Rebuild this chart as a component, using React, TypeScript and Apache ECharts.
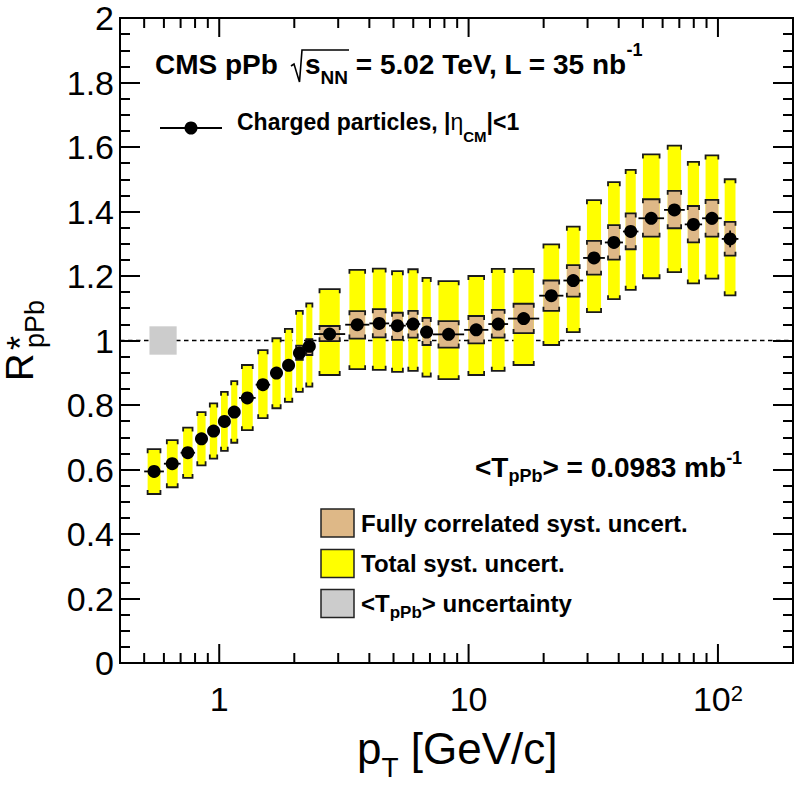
import React, { useEffect, useRef } from "react";
import * as echarts from "echarts";

const FONT = "Liberation Sans, Arial, Helvetica, sans-serif";

// pT bin edges [GeV/c]
const binEdges = [
  0.5, 0.6, 0.7, 0.8, 0.9, 1.0, 1.1, 1.2, 1.4, 1.6, 1.8, 2.0, 2.2, 2.4, 3.2, 4.0, 4.8, 5.6, 6.4,
  7.2, 9.6, 12.0, 14.4, 19.2, 24.0, 28.8, 35.2, 41.6, 48.0, 60.8, 73.6, 86.4, 103.6, 120.8,
];
// point positions [GeV/c]
const ptValues = [
  0.548, 0.648, 0.748, 0.849, 0.949, 1.049, 1.149, 1.296, 1.497, 1.697, 1.897, 2.098, 2.298, 2.771,
  3.578, 4.382, 5.185, 5.987, 6.788, 8.314, 10.73, 13.15, 16.63, 21.47, 26.29, 31.84, 38.27, 44.68,
  54.01, 66.89, 79.75, 94.61, 111.9,
];
const rpPb = [
  0.594, 0.618, 0.652, 0.695, 0.719, 0.749, 0.778, 0.822, 0.863, 0.899, 0.923, 0.961, 0.982, 1.02,
  1.049, 1.053, 1.046, 1.051, 1.026, 1.019, 1.033, 1.051, 1.068, 1.139, 1.186, 1.256, 1.304, 1.338,
  1.379, 1.405, 1.36, 1.379, 1.315,
];
const statErr = [
  0.001, 0.001, 0.001, 0.001, 0.001, 0.001, 0.001, 0.001, 0.001, 0.001, 0.001, 0.001, 0.001, 0.001,
  0.001, 0.001, 0.002, 0.002, 0.002, 0.002, 0.002, 0.003, 0.003, 0.004, 0.005, 0.007, 0.009, 0.011,
  0.012, 0.015, 0.018, 0.019, 0.026,
];
const totalSystLow = [
  0.524, 0.545, 0.574, 0.613, 0.634, 0.658, 0.683, 0.722, 0.759, 0.79, 0.81, 0.841, 0.857, 0.893,
  0.911, 0.909, 0.903, 0.906, 0.888, 0.88, 0.893, 0.906, 0.924, 0.986, 1.026, 1.088, 1.128, 1.157,
  1.193, 1.212, 1.177, 1.192, 1.14,
];
const totalSystHigh = [
  0.663, 0.691, 0.73, 0.778, 0.805, 0.841, 0.874, 0.924, 0.97, 1.007, 1.036, 1.092, 1.115, 1.159,
  1.219, 1.223, 1.215, 1.221, 1.194, 1.184, 1.2, 1.222, 1.222, 1.298, 1.353, 1.435, 1.491, 1.529,
  1.577, 1.604, 1.554, 1.574, 1.5,
];
const corrSystLow = [
  null, null, null, null, null, null, null, null, null, null, null, 0.94, 0.955, 0.998,
  1.006, 1.01, 1.002, 1.009, 0.986, 0.978, 0.991, 1.009, 1.023, 1.092, 1.136, 1.204, 1.251, 1.283,
  1.322, 1.348, 1.304, 1.322, 1.263,
];
const corrSystHigh = [
  null, null, null, null, null, null, null, null, null, null, null, 0.984, 1.004, 1.045,
  1.091, 1.097, 1.086, 1.092, 1.07, 1.06, 1.076, 1.095, 1.114, 1.186, 1.234, 1.309, 1.358, 1.394,
  1.438, 1.464, 1.417, 1.436, 1.368,
];
const refLevel = 1;
const normUncertainty = 0.044;
const normBoxPt = [0.525, 0.675];
const xRange = [0.4, 200];
const yRange = [0, 2];
const xMajorTicks = [1, 10, 100];
const xMinorTicks = [0.5, 0.6, 0.7, 0.8, 0.9, 2, 3, 4, 5, 6, 7, 8, 9, 20, 30, 40, 50, 60, 70, 80, 90];

const YELLOW = "#ffff00";
const TAN = "#deb887";
const GREY = "#cccccc";
const INK = "#000000";

const totalRows = ptValues.map((pt, i) => [pt, binEdges[i], binEdges[i + 1], totalSystLow[i], totalSystHigh[i]]);
const corrRows = ptValues
  .map((pt, i) => [pt, binEdges[i], binEdges[i + 1], corrSystLow[i], corrSystHigh[i]])
  .filter((r) => r[3] != null);
const errRows = ptValues.map((pt, i) => [pt, binEdges[i], binEdges[i + 1], rpPb[i], statErr[i]]);
const pointRows = ptValues.map((pt, i) => [pt, rpPb[i]]);

const makeBoxRenderer = (fill: string) => (_p: any, api: any) => {
  const pLo = api.coord([api.value(1), api.value(3)]);
  const pHi = api.coord([api.value(2), api.value(4)]);
  const mid = (pLo[0] + pHi[0]) / 2;
  const half = (pHi[0] - pLo[0]) * 0.325;
  const x0 = mid - half;
  const x1 = mid + half;
  const yb = pLo[1];
  const yt = pHi[1];
  const h = 4;
  const cap = { stroke: "#1a1a1a", lineWidth: 1.8, fill: "none" };
  return {
    type: "group",
    children: [
      { type: "rect", shape: { x: x0, y: yt, width: x1 - x0, height: yb - yt }, style: { fill } },
      { type: "polyline", shape: { points: [[x0, yt + h], [x0, yt], [x1, yt], [x1, yt + h]] }, style: cap },
      { type: "polyline", shape: { points: [[x0, yb - h], [x0, yb], [x1, yb], [x1, yb - h]] }, style: cap },
    ],
  };
};

const makeTickRenderer = (len: number) => (_p: any, api: any) => {
  const b = api.coord([api.value(0), yRange[0]]);
  const t = api.coord([api.value(0), yRange[1]]);
  const st = { stroke: INK, lineWidth: 2 };
  return {
    type: "group",
    children: [
      { type: "line", shape: { x1: b[0], y1: b[1], x2: b[0], y2: b[1] - len }, style: st },
      { type: "line", shape: { x1: t[0], y1: t[1], x2: t[0], y2: t[1] + len }, style: st },
    ],
  };
};

const yAxisBase = {
  type: "value",
  min: yRange[0],
  max: yRange[1],
  interval: 0.2,
  axisLine: { show: false },
  splitLine: { show: false },
  minorSplitLine: { show: false },
  axisTick: { show: true, inside: true, length: 20, lineStyle: { color: INK, width: 2 } },
  minorTick: { show: true, splitNumber: 4, length: 10, lineStyle: { color: INK, width: 2 } },
};

const bold = (size: number, extra: any = {}) => ({
  fontFamily: FONT,
  fontSize: size,
  fontWeight: "bold",
  fill: INK,
  color: INK,
  ...extra,
});
const plain = (size: number, extra: any = {}) => ({
  fontFamily: FONT,
  fontSize: size,
  fontWeight: "normal",
  fill: INK,
  color: INK,
  ...extra,
});

const txt = (x: number, y: number, text: string, rich: any) => ({
  type: "text",
  x,
  y,
  style: {
    text,
    rich,
    align: "left",
    textAlign: "left",
    verticalAlign: "middle",
    textVerticalAlign: "middle",
    fill: INK,
  },
});

const plainText = (x: number, y: number, text: string, size: number) => ({
  type: "text",
  x,
  y,
  style: {
    text,
    fontFamily: FONT,
    fontSize: size,
    fill: INK,
    align: "left",
    textAlign: "left",
    verticalAlign: "middle",
    textVerticalAlign: "middle",
  },
});

const headerRich = {
  m: bold(28, { lineHeight: 46 }),
  sub: bold(19, { lineHeight: 19, verticalAlign: "bottom" }),
  sup: bold(18, { lineHeight: 34, verticalAlign: "top" }),
};
const chargedRich = {
  m: bold(23, { lineHeight: 44 }),
  g: plain(23, { lineHeight: 44 }),
  sub: bold(15, { lineHeight: 15, verticalAlign: "bottom" }),
};
const tRich = {
  m: bold(28, { lineHeight: 36 }),
  sub: bold(18, { lineHeight: 18, verticalAlign: "bottom" }),
  sup: bold(18, { lineHeight: 16, verticalAlign: "top" }),
};
const legRich = {
  m: bold(24, { lineHeight: 36 }),
  sub: bold(17, { lineHeight: 17, verticalAlign: "bottom" }),
};
const xTitleRich = {
  m: plain(44, { lineHeight: 67 }),
  sub: plain(28, { lineHeight: 28, verticalAlign: "bottom" }),
};

const legendBox = (y: number, fill: string) => ({
  type: "rect",
  shape: { x: 321, y, width: 33, height: 28 },
  style: { fill, stroke: "#222", lineWidth: 1.5 },
});

const option: any = {
  animation: false,
  backgroundColor: "#ffffff",
  textStyle: { fontFamily: FONT },
  grid: {
    left: 120,
    top: 18,
    width: 673,
    height: 645,
    show: true,
    borderColor: INK,
    borderWidth: 2,
    backgroundColor: "transparent",
  },
  xAxis: {
    type: "log",
    logBase: 10,
    min: xRange[0],
    max: xRange[1],
    axisLine: { show: false },
    axisTick: { show: false },
    splitLine: { show: false },
    minorTick: { show: false },
    axisLabel: {
      margin: 19,
      formatter: (v: number) => {
        if (Math.abs(v - 1) < 1e-6) return "{n|1}";
        if (Math.abs(v - 10) < 1e-5) return "{n|10}";
        if (Math.abs(v - 100) < 1e-4) return "{n|10}{s|2}";
        return "";
      },
      rich: {
        n: { fontFamily: FONT, fontSize: 34, color: INK, lineHeight: 34 },
        s: { fontFamily: FONT, fontSize: 22, color: INK, lineHeight: 8, verticalAlign: "top" },
      },
    },
  },
  yAxis: [
    {
      ...yAxisBase,
      position: "left",
      axisLabel: { show: true, fontFamily: FONT, fontSize: 34, color: INK, margin: 6 },
    },
    { ...yAxisBase, position: "right", axisLabel: { show: false } },
  ],
  series: [
    {
      type: "line",
      data: [[xRange[0], refLevel], [xRange[1], refLevel]],
      symbol: "none",
      silent: true,
      z: 1,
      lineStyle: { color: INK, width: 1.5, type: [4.5, 3.5] },
    },
    {
      type: "custom",
      z: 2,
      silent: true,
      encode: { x: 0, y: 2 },
      data: [[normBoxPt[0], normBoxPt[1], refLevel - normUncertainty, refLevel + normUncertainty]],
      renderItem: (_p: any, api: any) => {
        const a = api.coord([api.value(0), api.value(3)]);
        const b = api.coord([api.value(1), api.value(2)]);
        return {
          type: "rect",
          shape: { x: a[0], y: a[1], width: b[0] - a[0], height: b[1] - a[1] },
          style: { fill: GREY },
        };
      },
    },
    {
      type: "custom",
      z: 3,
      silent: true,
      encode: { x: 0, y: 3 },
      data: totalRows,
      renderItem: makeBoxRenderer(YELLOW),
    },
    {
      type: "custom",
      z: 4,
      silent: true,
      encode: { x: 0, y: 3 },
      data: corrRows,
      renderItem: makeBoxRenderer(TAN),
    },
    {
      type: "custom",
      z: 5,
      silent: true,
      encode: { x: 0, y: 3 },
      data: errRows,
      renderItem: (_p: any, api: any) => {
        const pt = api.value(0);
        const r = api.value(3);
        const s = api.value(4);
        const a = api.coord([api.value(1), r]);
        const b = api.coord([api.value(2), r]);
        const c1 = api.coord([pt, r - s]);
        const c2 = api.coord([pt, r + s]);
        const st = { stroke: INK, lineWidth: 1.8 };
        return {
          type: "group",
          children: [
            { type: "line", shape: { x1: a[0], y1: a[1], x2: b[0], y2: b[1] }, style: st },
            { type: "line", shape: { x1: c1[0], y1: c1[1], x2: c2[0], y2: c2[1] }, style: st },
          ],
        };
      },
    },
    {
      type: "scatter",
      z: 6,
      silent: true,
      data: pointRows,
      symbol: "circle",
      symbolSize: 13,
      itemStyle: { color: INK, opacity: 1, borderWidth: 0 },
    },
    {
      type: "custom",
      z: 7,
      silent: true,
      encode: { x: 0, y: 1 },
      data: xMajorTicks.map((v) => [v, 0]),
      renderItem: makeTickRenderer(19),
    },
    {
      type: "custom",
      z: 7,
      silent: true,
      encode: { x: 0, y: 1 },
      data: xMinorTicks.map((v) => [v, 0]),
      renderItem: makeTickRenderer(10),
    },
  ],
  graphic: [
    txt(155, 64, "{m|CMS pPb}", headerRich),
    {
      type: "polyline",
      shape: { points: [[291, 66], [294, 64], [299.5, 82], [302, 50], [349, 50]] },
      style: { stroke: INK, lineWidth: 1.6, fill: "none" },
    },
    txt(305, 64, "{m|s}{sub|NN}{m| = 5.02 TeV, L = 35 nb}{sup|-1}", headerRich),
    { type: "line", shape: { x1: 160, y1: 128, x2: 222, y2: 128 }, style: { stroke: INK, lineWidth: 2 } },
    { type: "circle", shape: { cx: 191, cy: 128, r: 6.5 }, style: { fill: INK } },
    txt(237, 122, "{m|Charged particles, |}{g|η}{sub|CM}{m||<1}", chargedRich),
    txt(475, 467, "{m|<T}{sub|pPb}{m|> = 0.0983 mb}{sup|-1}", tRich),
    legendBox(509, TAN),
    legendBox(549.5, YELLOW),
    legendBox(589.5, GREY),
    txt(361, 523, "{m|Fully correlated syst. uncert.}", legRich),
    txt(361, 563, "{m|Total syst. uncert.}", legRich),
    txt(361, 603, "{m|<T}{sub|pPb}{m|> uncertainty}", legRich),
    txt(357, 748, "{m|p}{sub|T}{m| [GeV/c]}", xTitleRich),
    {
      type: "group",
      x: 33.5,
      y: 381,
      rotation: Math.PI / 2,
      children: [
        plainText(0, -13.2, "R", 38),
        plainText(31, -12.9, "*", 36),
        plainText(33, 1.6, "pPb", 27),
      ],
    },
  ],
};

export default function App() {
  const ref = useRef<HTMLDivElement>(null);
  useEffect(() => {
    if (!ref.current) return;
    const chart = echarts.init(ref.current, undefined, { renderer: "svg" });
    chart.setOption(option);
    return () => chart.dispose();
  }, []);
  return (
    <div
      ref={ref}
      style={{ position: "fixed", left: 0, top: 0, width: 796, height: 788, background: "#ffffff" }}
    />
  );
}
